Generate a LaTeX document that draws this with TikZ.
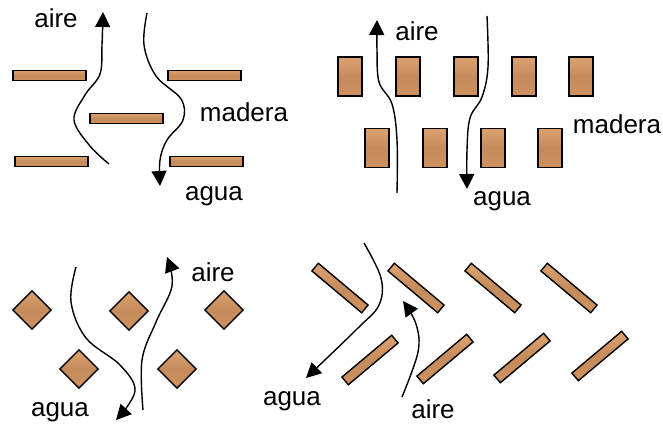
\documentclass[tikz,border=0pt]{standalone}
\usepackage{fontspec}
\setmainfont{Liberation Sans}
\usetikzlibrary{arrows.meta}
\definecolor{wood}{RGB}{207,146,96}
\definecolor{woodlight}{RGB}{220,162,112}
\begin{document}
\begin{tikzpicture}[x=1pt,y=-1pt,
  plank/.style={draw=black,line width=1.4pt,inner sep=0pt,
     top color=woodlight,bottom color=wood,middle color=wood!95!black},
  hplank/.style={plank,minimum width=73pt,minimum height=10.5pt},
  vblock/.style={plank,minimum width=24pt,minimum height=39pt},
  diam/.style={plank,minimum width=27pt,minimum height=27pt,rotate=45},
  splank/.style={plank,minimum width=65pt,minimum height=10pt},
  flow/.style={line width=1.4pt,-{Triangle[length=15pt,width=15pt]}},
  lbl/.style={font=\fontsize{26}{31}\selectfont,inner sep=0pt}]
\useasboundingbox (0,0) rectangle (663,428);
% ---------- panel 1 ----------
\node[hplank] (p1a) at (49.5,75.5) {};
\node[hplank] (p1b) at (204.5,75.5) {};
\node[hplank] (p1c) at (126.5,118.5) {};
\node[hplank] (p1d) at (51.5,161.5) {};
\node[hplank] (p1e) at (206.5,161.5) {};
\draw[flow] plot[smooth,tension=0.6] coordinates {(109,164) (90,146) (74,120) (85,95) (100,74) (102,45) (103,12)};
\draw[flow] plot[smooth,tension=0.6] coordinates {(147,13) (144,45) (156,76) (181,99) (183,120) (167,140) (160,160) (160,186)};
\node[lbl] (t1a) at (56,18) {aire};
\node[lbl] (t1m) at (244,112) {madera};
\node[lbl] (t1w) at (214,196) {agua};
% ---------- panel 2 ----------
\foreach \i/\x in {1/350,2/408,3/466,4/524,5/581}{
  \node[vblock] (p2t\i) at (\x,76.5) {};}
\foreach \i/\x in {1/377,2/435,3/493,4/550}{
  \node[vblock] (p2b\i) at (\x,148) {};}
\draw[flow] plot[smooth,tension=0.6] coordinates {(397,193) (397,140) (392,104) (379,82) (377,50) (377,20)};
\draw[flow] plot[smooth,tension=0.6] coordinates {(487,16) (488,67) (482,97) (470,118) (467,150) (467,189)};
\node[lbl] (t2a) at (417,31) {aire};
\node[lbl] (t2m) at (617,124) {madera};
\node[lbl] (t2w) at (502,201) {agua};
% ---------- panel 3 ----------
\node[diam] (d1) at (32,310) {};
\node[diam] (d2) at (129,311) {};
\node[diam] (d3) at (224,310) {};
\node[diam] (d4) at (79,369) {};
\node[diam] (d5) at (177,369) {};
\draw[flow] plot[smooth,tension=0.6] coordinates {(76,267) (71,302) (86,338) (120,365) (135,391) (116,420)};
\draw[flow] plot[smooth,tension=0.6] coordinates {(143,410) (142,360) (156,322) (172,286) (167,257)};
\node[lbl] (t3a) at (213,272) {aire};
\node[lbl] (t3w) at (60,412) {agua};
% ---------- panel 4 ----------
\foreach \i/\x in {1/340,2/416,3/493,4/569}{
  \node[splank,rotate=-40] (p4t\i) at (\x,288) {};}
\foreach \i/\x/\y in {1/370/360,2/445/359,3/522/358,4/600/356}{
  \node[splank,rotate=40] (p4b\i) at (\x,\y) {};}
\draw[flow] plot[smooth,tension=0.6] coordinates {(364,243) (381,278) (379,305) (358,328) (306,378)};
\draw[flow] plot[smooth,tension=0.6] coordinates {(402,397) (418,352) (416,324) (403,301)};
\node[lbl] (t4w) at (292,401) {agua};
\node[lbl] (t4a) at (433,409) {aire};
\end{tikzpicture}
\end{document}
